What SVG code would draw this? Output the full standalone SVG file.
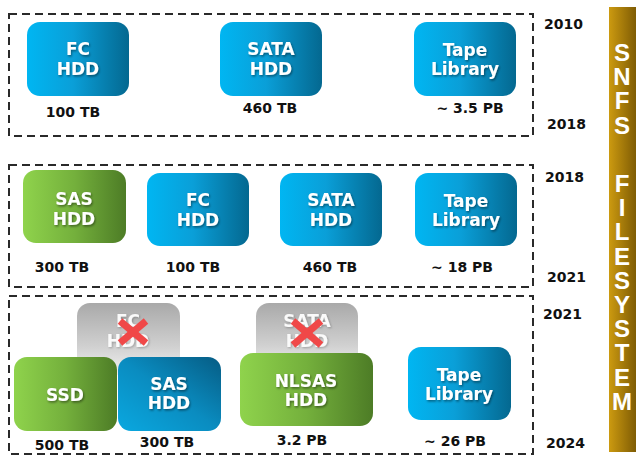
<svg xmlns="http://www.w3.org/2000/svg" width="636" height="457" viewBox="0 0 636 457">
<defs>
<linearGradient id="gBlue" x1="0" y1="0" x2="1" y2="0">
<stop offset="0" stop-color="#00b6f2"/><stop offset="0.45" stop-color="#0a9fd8"/><stop offset="1" stop-color="#046890"/>
</linearGradient>
<linearGradient id="gBlue2" x1="0" y1="1" x2="1" y2="0">
<stop offset="0" stop-color="#0aa8e0"/><stop offset="0.5" stop-color="#0a8cc0"/><stop offset="1" stop-color="#065c84"/>
</linearGradient>
<linearGradient id="gGreen" x1="0" y1="0" x2="1" y2="0">
<stop offset="0" stop-color="#8fd34c"/><stop offset="0.5" stop-color="#74b03c"/><stop offset="1" stop-color="#4d7c26"/>
</linearGradient>
<linearGradient id="gGray" x1="0" y1="0" x2="0" y2="1">
<stop offset="0" stop-color="#a9a9a9"/><stop offset="0.6" stop-color="#d0d0d0"/><stop offset="1" stop-color="#f2f2f2"/>
</linearGradient>
<linearGradient id="gGold" x1="0" y1="0" x2="1" y2="0">
<stop offset="0" stop-color="#cc9a10"/><stop offset="1" stop-color="#7f5c04"/>
</linearGradient>
<filter id="ts" x="-20%" y="-20%" width="140%" height="160%">
<feDropShadow dx="1" dy="1.5" stdDeviation="0.8" flood-color="#000" flood-opacity="0.45"/>
</filter>
<filter id="ts2" x="-20%" y="-20%" width="140%" height="160%">
<feDropShadow dx="1" dy="1" stdDeviation="0.8" flood-color="#000" flood-opacity="0.25"/>
</filter>
</defs>
<style>
.frame{fill:none;stroke:#2a2a2a;stroke-width:2;stroke-dasharray:8 5}
.blue{fill:url(#gBlue)}
.blue2{fill:url(#gBlue2)}
.green{fill:url(#gGreen)}
.gray{fill:url(#gGray)}
.nt{font-family:"DejaVu Sans",Verdana,sans-serif;font-weight:bold;font-size:17px;fill:#fff;text-anchor:middle;filter:url(#ts)}
.gt{font-family:"DejaVu Sans",Verdana,sans-serif;font-weight:bold;font-size:17px;fill:#fafafa;text-anchor:middle;filter:url(#ts2)}
.lb{font-family:"DejaVu Sans",Verdana,sans-serif;font-weight:bold;font-size:14px;fill:#111;text-anchor:middle}
.yr{font-family:"DejaVu Sans",Verdana,sans-serif;font-weight:bold;font-size:14px;fill:#111}
.sb{font-family:"Liberation Sans",Arial,sans-serif;font-weight:bold;font-size:24px;fill:#fff;writing-mode:vertical-rl;text-orientation:upright;letter-spacing:-2.8px}
.x{stroke:#f04848;stroke-width:7;stroke-linecap:butt}
</style>

<g id="frames">
<rect class="frame" x="9" y="14" width="524" height="122"/>
<rect class="frame" x="9" y="165" width="524" height="122"/>
<rect class="frame" x="9" y="296" width="524" height="158"/>
</g>

<g id="years">
<text class="yr" x="544" y="29">2010</text>
<text class="yr" x="547" y="129">2018</text>
<text class="yr" x="545" y="182">2018</text>
<text class="yr" x="547" y="282">2021</text>
<text class="yr" x="543" y="319">2021</text>
<text class="yr" x="546" y="448">2024</text>
</g>

<g id="sidebar">
<rect x="609" y="7" width="27" height="445" fill="url(#gGold)"/>
<text class="sb" x="622" y="39">SNFS</text>
<text class="sb" x="622" y="170">FILESYSTEM</text>
</g>

<g id="connectors"></g>

<g id="r1-fc">
<rect class="blue" x="27" y="22" width="102" height="74" rx="13"/>
<text class="nt" x="78" y="55">FC</text><text class="nt" x="78" y="75">HDD</text>
<text class="lb" x="73" y="117">100 TB</text>
</g>
<g id="r1-sata">
<rect class="blue" x="220" y="22" width="102" height="74" rx="13"/>
<text class="nt" x="271" y="55">SATA</text><text class="nt" x="271" y="75">HDD</text>
<text class="lb" x="270" y="113">460 TB</text>
</g>
<g id="r1-tape">
<rect class="blue" x="414" y="22" width="102" height="74" rx="13"/>
<text class="nt" x="465" y="56">Tape</text><text class="nt" x="465" y="75">Library</text>
<text class="lb" x="470" y="113">~ 3.5 PB</text>
</g>

<g id="r2-sas">
<rect class="green" x="23" y="170" width="103" height="73" rx="13"/>
<text class="nt" x="74" y="205">SAS</text><text class="nt" x="74" y="225">HDD</text>
<text class="lb" x="62" y="272">300 TB</text>
</g>
<g id="r2-fc">
<rect class="blue" x="147" y="173" width="102" height="73" rx="13"/>
<text class="nt" x="198" y="206">FC</text><text class="nt" x="198" y="226">HDD</text>
<text class="lb" x="193" y="272">100 TB</text>
</g>
<g id="r2-sata">
<rect class="blue" x="280" y="173" width="102" height="73" rx="13"/>
<text class="nt" x="331" y="206">SATA</text><text class="nt" x="331" y="226">HDD</text>
<text class="lb" x="330" y="272">460 TB</text>
</g>
<g id="r2-tape">
<rect class="blue" x="415" y="173" width="102" height="73" rx="13"/>
<text class="nt" x="466" y="207">Tape</text><text class="nt" x="466" y="226">Library</text>
<text class="lb" x="462" y="272">~ 18 PB</text>
</g>

<g id="r3-fc-old">
<rect class="gray" x="77" y="303" width="103" height="72" rx="13"/>
<text class="gt" x="128" y="327">FC</text><text class="gt" x="128" y="347">HDD</text>
<line class="x" x1="120" y1="321" x2="146" y2="343"/><line class="x" x1="146" y1="321" x2="120" y2="343"/>
</g>
<g id="r3-sata-old">
<rect class="gray" x="256" y="303" width="102" height="70" rx="13"/>
<text class="gt" x="307" y="327">SATA</text><text class="gt" x="307" y="347">HDD</text>
<line class="x" x1="293" y1="321" x2="321" y2="345"/><line class="x" x1="321" y1="321" x2="293" y2="345"/>
</g>
<g id="r3-ssd">
<rect class="green" x="14" y="357" width="103" height="74" rx="13"/>
<text class="nt" x="65" y="401">SSD</text>
<text class="lb" x="62" y="450">500 TB</text>
</g>
<g id="r3-sas">
<rect class="blue2" x="118" y="357" width="103" height="74" rx="13"/>
<text class="nt" x="169" y="390">SAS</text><text class="nt" x="169" y="409">HDD</text>
<text class="lb" x="167" y="447">300 TB</text>
</g>
<g id="r3-nlsas">
<rect class="green" x="240" y="353" width="133" height="73" rx="13"/>
<text class="nt" x="306" y="387">NLSAS</text><text class="nt" x="306" y="406">HDD</text>
<text class="lb" x="302" y="445">3.2 PB</text>
</g>
<g id="r3-tape">
<rect class="blue" x="408" y="347" width="103" height="73" rx="13"/>
<text class="nt" x="459" y="381">Tape</text><text class="nt" x="459" y="400">Library</text>
<text class="lb" x="455" y="446">~ 26 PB</text>
</g>
</svg>
